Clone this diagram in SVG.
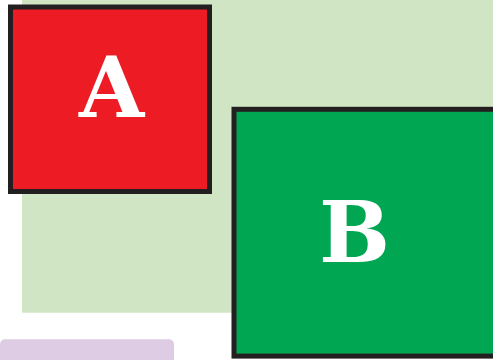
<svg xmlns="http://www.w3.org/2000/svg" width="493" height="360" viewBox="0 0 493 360">
<style>
.box{stroke:#231f20;stroke-width:5}
.lbl{font-family:"DejaVu Serif",serif;font-weight:bold;font-size:84px;fill:#ffffff;text-anchor:middle}
</style>
<rect x="0" y="0" width="493" height="360" fill="#ffffff"/>
<rect x="22" y="0" width="480" height="312.7" fill="#cfe5c4"/>
<rect x="0" y="339.3" width="174" height="30" rx="5" fill="#ddcce3"/>
<g id="connectors"></g>
<g id="nodeA">
<rect class="box" x="10.5" y="7" width="199" height="184.5" fill="#ed1c24"/>
<text class="lbl" x="111.5" y="117">A</text>
</g>
<g id="nodeB">
<rect class="box" x="234" y="109.3" width="300" height="246.8" fill="#00a651"/>
<text class="lbl" x="354.5" y="262">B</text>
</g>
</svg>
